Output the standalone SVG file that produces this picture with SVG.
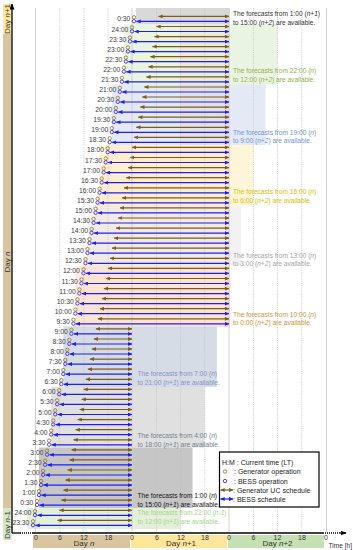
<svg xmlns="http://www.w3.org/2000/svg" width="353" height="550" viewBox="0 0 353 550">
<style>
text{font-family:"Liberation Sans",Arial,sans-serif;}
.lb{font-size:6.8px;fill:#404040;text-anchor:end;}
.ft{font-size:6.6px;}
.tk{font-size:7px;fill:#333;text-anchor:middle;}
.dy{font-size:8px;fill:#333;text-anchor:middle;}
.cg{fill:none;stroke:#A07A2C;stroke-width:0.9;}
.cb{fill:none;stroke:#3A2EE0;stroke-width:0.9;}
.ab{stroke:#7E5C1E;stroke-width:1.2;marker-start:url(#mbr);marker-end:url(#mbr);}
.aB{stroke:#1E1EF0;stroke-width:1.2;marker-start:url(#mbl);marker-end:url(#mbl);}
.gd{stroke:#BFBFBF;stroke-width:0.8;stroke-dasharray:1 1.2;}
.gs{stroke:#D0D0D0;stroke-width:1;}
.lg{font-size:7px;fill:#222;}
.rg{opacity:0.75;}
</style>
<defs>
<marker id="mbr" markerUnits="userSpaceOnUse" markerWidth="4.5" markerHeight="4" refX="4.2" refY="2" orient="auto-start-reverse"><path d="M0,0 L4.5,2 L0,4 z" fill="#7E5C1E"/></marker>
<marker id="mbl" markerUnits="userSpaceOnUse" markerWidth="4.5" markerHeight="4" refX="4.2" refY="2" orient="auto-start-reverse"><path d="M0,0 L4.5,2 L0,4 z" fill="#1E1EF0"/></marker>
<marker id="max" markerUnits="userSpaceOnUse" markerWidth="6" markerHeight="5" refX="5.5" refY="2.5" orient="auto"><path d="M0,0 L6,2.5 L0,5 z" fill="#000"/></marker>
</defs>

<g id="regions">
<polygon points="180,8 229,8 229,327 74,327 108,145 180,145" fill="#FBE0D2"/>
<rect x="224.5" y="8" width="5" height="319" fill="#F6C6C2"/>
<rect x="136" y="8" width="93" height="16" fill="#D9D9D9"/>
<rect class="rg" x="124" y="24" width="153.5" height="60.5" fill="#E2F0D9"/>
<rect class="rg" x="112" y="84.5" width="153.5" height="60.5" fill="#DAE3F3"/>
<rect class="rg" x="99.6" y="145" width="153.5" height="60.5" fill="#FFF2CC"/>
<rect class="rg" x="87.5" y="205.5" width="153.5" height="60.5" fill="#EDEDED"/>
<rect class="rg" x="75.4" y="266" width="153.6" height="60.5" fill="#FBE5D6"/>
<rect x="63.3" y="326.5" width="153.5" height="60.5" fill="#D6DCE5"/>
<rect x="51.2" y="387" width="153.5" height="60.5" fill="#E0E0E0"/>
<rect x="39" y="447.5" width="153.5" height="60.5" fill="#C6C6C6"/>
<rect x="27" y="508" width="153.5" height="21" fill="#E2F0D9"/>
</g>

<g id="grid">
<line class="gs" x1="35.5" y1="8" x2="35.5" y2="532"/>
<line class="gs" x1="132" y1="8" x2="132" y2="532"/>
<line class="gs" x1="229" y1="8" x2="229" y2="532"/>
<line class="gs" x1="326.5" y1="8" x2="326.5" y2="532"/>
<line class="gd" x1="59.7" y1="8" x2="59.7" y2="532"/>
<line class="gd" x1="83.9" y1="8" x2="83.9" y2="532"/>
<line class="gd" x1="108.1" y1="8" x2="108.1" y2="532"/>
<line class="gd" x1="156.5" y1="8" x2="156.5" y2="532"/>
<line class="gd" x1="180.6" y1="8" x2="180.6" y2="532"/>
<line class="gd" x1="204.8" y1="8" x2="204.8" y2="532"/>
<line class="gd" x1="253.5" y1="8" x2="253.5" y2="532"/>
<line class="gd" x1="277.5" y1="8" x2="277.5" y2="532"/>
<line class="gd" x1="301.8" y1="8" x2="301.8" y2="532"/>
</g>

<g id="day-bands">
<rect x="3" y="4" width="8.5" height="30" fill="#FFE699"/>
<rect x="3" y="34" width="8.5" height="474" fill="#D9C6A0"/>
<rect x="3" y="508" width="8.5" height="32" fill="#D5E8C4"/>
<text class="dy" transform="translate(9.8,19) rotate(-90)" font-size="7">Day <tspan font-style="italic">n</tspan>+1</text>
<text class="dy" transform="translate(9.8,262) rotate(-90)" font-size="7">Day <tspan font-style="italic">n</tspan></text>
<text class="dy" transform="translate(9.8,525) rotate(-90)" font-size="7">Day <tspan font-style="italic">n</tspan>-1</text>
<rect x="33" y="535" width="97" height="13" fill="#D9C6A0"/>
<rect x="131" y="535" width="96" height="13" fill="#FFE699"/>
<rect x="228" y="535" width="96" height="13" fill="#C5E0B4"/>
</g>

<g id="axes">
<line x1="12" y1="533" x2="12" y2="4" stroke="#000" stroke-width="1.3" marker-end="url(#max)"/>
<line x1="12" y1="533" x2="20" y2="533" stroke="#000" stroke-width="1.3"/>
<line x1="20" y1="533" x2="33" y2="533" stroke="#000" stroke-width="1.3" stroke-dasharray="1 1"/>
<line x1="33" y1="533" x2="323" y2="533" stroke="#000" stroke-width="1.3"/>
<line x1="323" y1="533" x2="339" y2="533" stroke="#000" stroke-width="1.3" stroke-dasharray="1 1"/>
<line x1="339" y1="533" x2="346" y2="533" stroke="#000" stroke-width="1.3" marker-end="url(#max)"/>
<text class="tk" x="36" y="539.5">0</text><text class="tk" x="60" y="539.5">6</text><text class="tk" x="84" y="539.5">12</text><text class="tk" x="108.5" y="539.5">18</text>
<text class="tk" x="132" y="539.5">0</text><text class="tk" x="157" y="539.5">6</text><text class="tk" x="181" y="539.5">12</text><text class="tk" x="205" y="539.5">18</text>
<text class="tk" x="229" y="539.5">0</text><text class="tk" x="253.5" y="539.5">6</text><text class="tk" x="277.5" y="539.5">12</text><text class="tk" x="302" y="539.5">18</text>
<text class="tk" x="326" y="539.5">0</text>
<text class="dy" x="84" y="546">Day <tspan font-style="italic">n</tspan></text>
<text class="dy" x="181" y="546">Day <tspan font-style="italic">n</tspan>+1</text>
<text class="dy" x="277.5" y="546">Day <tspan font-style="italic">n</tspan>+2</text>
<text x="352" y="547.5" font-size="6.6" fill="#333" text-anchor="end">Time [h]</text>
</g>

<g id="forecast-texts" class="ft">
<text x="233" y="15.8" fill="#333">The forecasts from 1:00 (<tspan font-style="italic">n+1</tspan>)</text>
<text x="233" y="25" fill="#333">to 15:00 (<tspan font-style="italic">n+2</tspan>) are available.</text>
<text x="233" y="73.3" fill="#8DB54A">The forecasts from 22:00 (<tspan font-style="italic">n</tspan>)</text>
<text x="233" y="82" fill="#8DB54A">to 12:00 (<tspan font-style="italic">n+2</tspan>) are available.</text>
<text x="233" y="135" fill="#6F96D6">The forecasts from 19:00 (<tspan font-style="italic">n</tspan>)</text>
<text x="233" y="143.3" fill="#6F96D6">to 9:00 (<tspan font-style="italic">n+2</tspan>) are available.</text>
<text x="233" y="194" fill="#D6BE00">The forecasts from 16:00 (<tspan font-style="italic">n</tspan>)</text>
<text x="233" y="203" fill="#D6BE00">to 6:00 (<tspan font-style="italic">n+2</tspan>) are available.</text>
<text x="233" y="257.5" fill="#A6A6A6">The forecasts from 13:00 (<tspan font-style="italic">n</tspan>)</text>
<text x="233" y="265.5" fill="#A6A6A6">to 3:00 (<tspan font-style="italic">n+2</tspan>) are available.</text>
<text x="233" y="316.7" fill="#C9943A">The forecasts from 10:00 (<tspan font-style="italic">n</tspan>)</text>
<text x="233" y="325" fill="#C9943A">to 0:00 (<tspan font-style="italic">n+2</tspan>) are available.</text>
<text x="137.5" y="375.5" fill="#8492C4">The forecasts from 7:00 (<tspan font-style="italic">n</tspan>)</text>
<text x="137.5" y="385" fill="#8492C4">to 21:00 (<tspan font-style="italic">n+1</tspan>) are available.</text>
<text x="137.5" y="438" fill="#6F7F90">The forecasts from 4:00 (<tspan font-style="italic">n</tspan>)</text>
<text x="137.5" y="446.5" fill="#6F7F90">to 18:00 (<tspan font-style="italic">n+1</tspan>) are available.</text>
<text x="137.5" y="498" fill="#111">The forecasts from 1:00 (<tspan font-style="italic">n</tspan>)</text>
<text x="137.5" y="506.5" fill="#111">to 15:00 (<tspan font-style="italic">n+1</tspan>) are available.</text>
<text x="137.5" y="515" fill="#A9D18E">The forecasts from 22:00 (<tspan font-style="italic">n-1</tspan>)</text>
<text x="137.5" y="523.5" fill="#A9D18E">to 12:00 (<tspan font-style="italic">n+1</tspan>) are available.</text>
</g>

<g id="connectors">
<line class="ab" x1="158.5" y1="16.4" x2="229" y2="16.4"/><line class="aB" x1="136.5" y1="21.4" x2="229" y2="21.4"/>
<line class="ab" x1="156.5" y1="26.5" x2="229" y2="26.5"/><line class="aB" x1="134.5" y1="31.5" x2="229" y2="31.5"/>
<line class="ab" x1="154.4" y1="36.6" x2="229" y2="36.6"/><line class="aB" x1="132.4" y1="41.6" x2="229" y2="41.6"/>
<line class="ab" x1="152.4" y1="46.6" x2="229" y2="46.6"/><line class="aB" x1="130.4" y1="51.6" x2="229" y2="51.6"/>
<line class="ab" x1="150.4" y1="56.7" x2="229" y2="56.7"/><line class="aB" x1="128.4" y1="61.7" x2="229" y2="61.7"/>
<line class="ab" x1="148.4" y1="66.8" x2="229" y2="66.8"/><line class="aB" x1="126.4" y1="71.8" x2="229" y2="71.8"/>
<line class="ab" x1="146.4" y1="76.9" x2="229" y2="76.9"/><line class="aB" x1="124.4" y1="81.9" x2="229" y2="81.9"/>
<line class="ab" x1="144.3" y1="87" x2="229" y2="87"/><line class="aB" x1="122.3" y1="92" x2="229" y2="92"/>
<line class="ab" x1="142.3" y1="97" x2="229" y2="97"/><line class="aB" x1="120.3" y1="102" x2="229" y2="102"/>
<line class="ab" x1="140.3" y1="107.1" x2="229" y2="107.1"/><line class="aB" x1="118.3" y1="112.1" x2="229" y2="112.1"/>
<line class="ab" x1="138.3" y1="117.2" x2="229" y2="117.2"/><line class="aB" x1="116.3" y1="122.2" x2="229" y2="122.2"/>
<line class="ab" x1="136.3" y1="127.3" x2="229" y2="127.3"/><line class="aB" x1="114.3" y1="132.3" x2="229" y2="132.3"/>
<line class="ab" x1="134.2" y1="137.4" x2="229" y2="137.4"/><line class="aB" x1="112.2" y1="142.4" x2="229" y2="142.4"/>
<line class="ab" x1="132.2" y1="147.4" x2="229" y2="147.4"/><line class="aB" x1="110.2" y1="152.4" x2="229" y2="152.4"/>
<line class="ab" x1="130.2" y1="157.5" x2="229" y2="157.5"/><line class="aB" x1="108.2" y1="162.5" x2="229" y2="162.5"/>
<line class="ab" x1="128.2" y1="167.6" x2="229" y2="167.6"/><line class="aB" x1="106.2" y1="172.6" x2="229" y2="172.6"/>
<line class="ab" x1="126.2" y1="177.7" x2="229" y2="177.7"/><line class="aB" x1="104.2" y1="182.7" x2="229" y2="182.7"/>
<line class="ab" x1="124.1" y1="187.8" x2="229" y2="187.8"/><line class="aB" x1="102.1" y1="192.8" x2="229" y2="192.8"/>
<line class="ab" x1="122.1" y1="197.8" x2="229" y2="197.8"/><line class="aB" x1="100.1" y1="202.8" x2="229" y2="202.8"/>
<line class="ab" x1="120.1" y1="207.9" x2="229" y2="207.9"/><line class="aB" x1="98.1" y1="212.9" x2="229" y2="212.9"/>
<line class="ab" x1="118.1" y1="218" x2="229" y2="218"/><line class="aB" x1="96.1" y1="223" x2="229" y2="223"/>
<line class="ab" x1="116.1" y1="228.1" x2="229" y2="228.1"/><line class="aB" x1="94.1" y1="233.1" x2="229" y2="233.1"/>
<line class="ab" x1="114" y1="238.2" x2="229" y2="238.2"/><line class="aB" x1="92" y1="243.2" x2="229" y2="243.2"/>
<line class="ab" x1="112" y1="248.2" x2="229" y2="248.2"/><line class="aB" x1="90" y1="253.2" x2="229" y2="253.2"/>
<line class="ab" x1="110" y1="258.3" x2="229" y2="258.3"/><line class="aB" x1="88" y1="263.3" x2="229" y2="263.3"/>
<line class="ab" x1="108" y1="268.4" x2="229" y2="268.4"/><line class="aB" x1="86" y1="273.4" x2="229" y2="273.4"/>
<line class="ab" x1="106" y1="278.5" x2="229" y2="278.5"/><line class="aB" x1="84" y1="283.5" x2="229" y2="283.5"/>
<line class="ab" x1="103.9" y1="288.6" x2="229" y2="288.6"/><line class="aB" x1="81.9" y1="293.6" x2="229" y2="293.6"/>
<line class="ab" x1="101.9" y1="298.6" x2="229" y2="298.6"/><line class="aB" x1="79.9" y1="303.6" x2="229" y2="303.6"/>
<line class="ab" x1="99.9" y1="308.7" x2="229" y2="308.7"/><line class="aB" x1="77.9" y1="313.7" x2="229" y2="313.7"/>
<line class="ab" x1="97.9" y1="318.8" x2="229" y2="318.8"/><line class="aB" x1="75.9" y1="323.8" x2="229" y2="323.8"/>
<line class="ab" x1="95.9" y1="328.9" x2="132" y2="328.9"/><line class="aB" x1="73.9" y1="333.9" x2="132" y2="333.9"/>
<line class="ab" x1="93.8" y1="339" x2="132" y2="339"/><line class="aB" x1="71.8" y1="344" x2="132" y2="344"/>
<line class="ab" x1="91.8" y1="349" x2="132" y2="349"/><line class="aB" x1="69.8" y1="354" x2="132" y2="354"/>
<line class="ab" x1="89.8" y1="359.1" x2="132" y2="359.1"/><line class="aB" x1="67.8" y1="364.1" x2="132" y2="364.1"/>
<line class="ab" x1="87.8" y1="369.2" x2="132" y2="369.2"/><line class="aB" x1="65.8" y1="374.2" x2="132" y2="374.2"/>
<line class="ab" x1="85.8" y1="379.3" x2="132" y2="379.3"/><line class="aB" x1="63.8" y1="384.3" x2="132" y2="384.3"/>
<line class="ab" x1="83.7" y1="389.4" x2="132" y2="389.4"/><line class="aB" x1="61.7" y1="394.4" x2="132" y2="394.4"/>
<line class="ab" x1="81.7" y1="399.4" x2="132" y2="399.4"/><line class="aB" x1="59.7" y1="404.4" x2="132" y2="404.4"/>
<line class="ab" x1="79.7" y1="409.5" x2="132" y2="409.5"/><line class="aB" x1="57.7" y1="414.5" x2="132" y2="414.5"/>
<line class="ab" x1="77.7" y1="419.6" x2="132" y2="419.6"/><line class="aB" x1="55.7" y1="424.6" x2="132" y2="424.6"/>
<line class="ab" x1="75.7" y1="429.7" x2="132" y2="429.7"/><line class="aB" x1="53.7" y1="434.7" x2="132" y2="434.7"/>
<line class="ab" x1="73.6" y1="439.8" x2="132" y2="439.8"/><line class="aB" x1="51.6" y1="444.8" x2="132" y2="444.8"/>
<line class="ab" x1="71.6" y1="449.8" x2="132" y2="449.8"/><line class="aB" x1="49.6" y1="454.8" x2="132" y2="454.8"/>
<line class="ab" x1="69.6" y1="459.9" x2="132" y2="459.9"/><line class="aB" x1="47.6" y1="464.9" x2="132" y2="464.9"/>
<line class="ab" x1="67.6" y1="470" x2="132" y2="470"/><line class="aB" x1="45.6" y1="475" x2="132" y2="475"/>
<line class="ab" x1="65.6" y1="480.1" x2="132" y2="480.1"/><line class="aB" x1="43.6" y1="485.1" x2="132" y2="485.1"/>
<line class="ab" x1="63.5" y1="490.2" x2="132" y2="490.2"/><line class="aB" x1="41.5" y1="495.2" x2="132" y2="495.2"/>
<line class="ab" x1="61.5" y1="500.2" x2="132" y2="500.2"/><line class="aB" x1="39.5" y1="505.2" x2="132" y2="505.2"/>
<line class="ab" x1="59.5" y1="510.3" x2="132" y2="510.3"/><line class="aB" x1="37.5" y1="515.3" x2="132" y2="515.3"/>
<line class="ab" x1="57.5" y1="520.4" x2="132" y2="520.4"/><line class="aB" x1="35.5" y1="525.4" x2="132" y2="525.4"/>
</g>

<g id="rows">
<g id="r00" transform="translate(134,19)"><text class="lb" x="-3.6" y="2.4">0:30</text><circle class="cg" cy="-1.7" r="1.7"/><circle class="cb" cy="2.2" r="1.7"/></g>
<g id="r01" transform="translate(132,29.1)"><text class="lb" x="-3.6" y="2.4">24:00</text><circle class="cg" cy="-1.7" r="1.7"/><circle class="cb" cy="2.2" r="1.7"/></g>
<g id="r02" transform="translate(129.9,39.2)"><text class="lb" x="-3.6" y="2.4">23:30</text><circle class="cg" cy="-1.7" r="1.7"/><circle class="cb" cy="2.2" r="1.7"/></g>
<g id="r03" transform="translate(127.9,49.2)"><text class="lb" x="-3.6" y="2.4">23:00</text><circle class="cg" cy="-1.7" r="1.7"/><circle class="cb" cy="2.2" r="1.7"/></g>
<g id="r04" transform="translate(125.9,59.3)"><text class="lb" x="-3.6" y="2.4">22:30</text><circle class="cg" cy="-1.7" r="1.7"/><circle class="cb" cy="2.2" r="1.7"/></g>
<g id="r05" transform="translate(123.9,69.4)"><text class="lb" x="-3.6" y="2.4">22:00</text><circle class="cg" cy="-1.7" r="1.7"/><circle class="cb" cy="2.2" r="1.7"/></g>
<g id="r06" transform="translate(121.9,79.5)"><text class="lb" x="-3.6" y="2.4">21:30</text><circle class="cg" cy="-1.7" r="1.7"/><circle class="cb" cy="2.2" r="1.7"/></g>
<g id="r07" transform="translate(119.8,89.6)"><text class="lb" x="-3.6" y="2.4">21:00</text><circle class="cg" cy="-1.7" r="1.7"/><circle class="cb" cy="2.2" r="1.7"/></g>
<g id="r08" transform="translate(117.8,99.6)"><text class="lb" x="-3.6" y="2.4">20:30</text><circle class="cg" cy="-1.7" r="1.7"/><circle class="cb" cy="2.2" r="1.7"/></g>
<g id="r09" transform="translate(115.8,109.7)"><text class="lb" x="-3.6" y="2.4">20:00</text><circle class="cg" cy="-1.7" r="1.7"/><circle class="cb" cy="2.2" r="1.7"/></g>
<g id="r10" transform="translate(113.8,119.8)"><text class="lb" x="-3.6" y="2.4">19:30</text><circle class="cg" cy="-1.7" r="1.7"/><circle class="cb" cy="2.2" r="1.7"/></g>
<g id="r11" transform="translate(111.8,129.9)"><text class="lb" x="-3.6" y="2.4">19:00</text><circle class="cg" cy="-1.7" r="1.7"/><circle class="cb" cy="2.2" r="1.7"/></g>
<g id="r12" transform="translate(109.7,140)"><text class="lb" x="-3.6" y="2.4">18:30</text><circle class="cg" cy="-1.7" r="1.7"/><circle class="cb" cy="2.2" r="1.7"/></g>
<g id="r13" transform="translate(107.7,150)"><text class="lb" x="-3.6" y="2.4">18:00</text><circle class="cg" cy="-1.7" r="1.7"/><circle class="cb" cy="2.2" r="1.7"/></g>
<g id="r14" transform="translate(105.7,160.1)"><text class="lb" x="-3.6" y="2.4">17:30</text><circle class="cg" cy="-1.7" r="1.7"/><circle class="cb" cy="2.2" r="1.7"/></g>
<g id="r15" transform="translate(103.7,170.2)"><text class="lb" x="-3.6" y="2.4">17:00</text><circle class="cg" cy="-1.7" r="1.7"/><circle class="cb" cy="2.2" r="1.7"/></g>
<g id="r16" transform="translate(101.7,180.3)"><text class="lb" x="-3.6" y="2.4">16:30</text><circle class="cg" cy="-1.7" r="1.7"/><circle class="cb" cy="2.2" r="1.7"/></g>
<g id="r17" transform="translate(99.6,190.4)"><text class="lb" x="-3.6" y="2.4">16:00</text><circle class="cg" cy="-1.7" r="1.7"/><circle class="cb" cy="2.2" r="1.7"/></g>
<g id="r18" transform="translate(97.6,200.4)"><text class="lb" x="-3.6" y="2.4">15:30</text><circle class="cg" cy="-1.7" r="1.7"/><circle class="cb" cy="2.2" r="1.7"/></g>
<g id="r19" transform="translate(95.6,210.5)"><text class="lb" x="-3.6" y="2.4">15:00</text><circle class="cg" cy="-1.7" r="1.7"/><circle class="cb" cy="2.2" r="1.7"/></g>
<g id="r20" transform="translate(93.6,220.6)"><text class="lb" x="-3.6" y="2.4">14:30</text><circle class="cg" cy="-1.7" r="1.7"/><circle class="cb" cy="2.2" r="1.7"/></g>
<g id="r21" transform="translate(91.6,230.7)"><text class="lb" x="-3.6" y="2.4">14:00</text><circle class="cg" cy="-1.7" r="1.7"/><circle class="cb" cy="2.2" r="1.7"/></g>
<g id="r22" transform="translate(89.5,240.8)"><text class="lb" x="-3.6" y="2.4">13:30</text><circle class="cg" cy="-1.7" r="1.7"/><circle class="cb" cy="2.2" r="1.7"/></g>
<g id="r23" transform="translate(87.5,250.8)"><text class="lb" x="-3.6" y="2.4">13:00</text><circle class="cg" cy="-1.7" r="1.7"/><circle class="cb" cy="2.2" r="1.7"/></g>
<g id="r24" transform="translate(85.5,260.9)"><text class="lb" x="-3.6" y="2.4">12:30</text><circle class="cg" cy="-1.7" r="1.7"/><circle class="cb" cy="2.2" r="1.7"/></g>
<g id="r25" transform="translate(83.5,271)"><text class="lb" x="-3.6" y="2.4">12:00</text><circle class="cg" cy="-1.7" r="1.7"/><circle class="cb" cy="2.2" r="1.7"/></g>
<g id="r26" transform="translate(81.5,281.1)"><text class="lb" x="-3.6" y="2.4">11:30</text><circle class="cg" cy="-1.7" r="1.7"/><circle class="cb" cy="2.2" r="1.7"/></g>
<g id="r27" transform="translate(79.4,291.2)"><text class="lb" x="-3.6" y="2.4">11:00</text><circle class="cg" cy="-1.7" r="1.7"/><circle class="cb" cy="2.2" r="1.7"/></g>
<g id="r28" transform="translate(77.4,301.2)"><text class="lb" x="-3.6" y="2.4">10:30</text><circle class="cg" cy="-1.7" r="1.7"/><circle class="cb" cy="2.2" r="1.7"/></g>
<g id="r29" transform="translate(75.4,311.3)"><text class="lb" x="-3.6" y="2.4">10:00</text><circle class="cg" cy="-1.7" r="1.7"/><circle class="cb" cy="2.2" r="1.7"/></g>
<g id="r30" transform="translate(73.4,321.4)"><text class="lb" x="-3.6" y="2.4">9:30</text><circle class="cg" cy="-1.7" r="1.7"/><circle class="cb" cy="2.2" r="1.7"/></g>
<g id="r31" transform="translate(71.4,331.5)"><text class="lb" x="-3.6" y="2.4">9:00</text><circle class="cg" cy="-1.7" r="1.7"/><circle class="cb" cy="2.2" r="1.7"/></g>
<g id="r32" transform="translate(69.3,341.6)"><text class="lb" x="-3.6" y="2.4">8:30</text><circle class="cg" cy="-1.7" r="1.7"/><circle class="cb" cy="2.2" r="1.7"/></g>
<g id="r33" transform="translate(67.3,351.6)"><text class="lb" x="-3.6" y="2.4">8:00</text><circle class="cg" cy="-1.7" r="1.7"/><circle class="cb" cy="2.2" r="1.7"/></g>
<g id="r34" transform="translate(65.3,361.7)"><text class="lb" x="-3.6" y="2.4">7:30</text><circle class="cg" cy="-1.7" r="1.7"/><circle class="cb" cy="2.2" r="1.7"/></g>
<g id="r35" transform="translate(63.3,371.8)"><text class="lb" x="-3.6" y="2.4">7:00</text><circle class="cg" cy="-1.7" r="1.7"/><circle class="cb" cy="2.2" r="1.7"/></g>
<g id="r36" transform="translate(61.3,381.9)"><text class="lb" x="-3.6" y="2.4">6:30</text><circle class="cg" cy="-1.7" r="1.7"/><circle class="cb" cy="2.2" r="1.7"/></g>
<g id="r37" transform="translate(59.2,392)"><text class="lb" x="-3.6" y="2.4">6:00</text><circle class="cg" cy="-1.7" r="1.7"/><circle class="cb" cy="2.2" r="1.7"/></g>
<g id="r38" transform="translate(57.2,402)"><text class="lb" x="-3.6" y="2.4">5:30</text><circle class="cg" cy="-1.7" r="1.7"/><circle class="cb" cy="2.2" r="1.7"/></g>
<g id="r39" transform="translate(55.2,412.1)"><text class="lb" x="-3.6" y="2.4">5:00</text><circle class="cg" cy="-1.7" r="1.7"/><circle class="cb" cy="2.2" r="1.7"/></g>
<g id="r40" transform="translate(53.2,422.2)"><text class="lb" x="-3.6" y="2.4">4:30</text><circle class="cg" cy="-1.7" r="1.7"/><circle class="cb" cy="2.2" r="1.7"/></g>
<g id="r41" transform="translate(51.2,432.3)"><text class="lb" x="-3.6" y="2.4">4:00</text><circle class="cg" cy="-1.7" r="1.7"/><circle class="cb" cy="2.2" r="1.7"/></g>
<g id="r42" transform="translate(49.1,442.4)"><text class="lb" x="-3.6" y="2.4">3:30</text><circle class="cg" cy="-1.7" r="1.7"/><circle class="cb" cy="2.2" r="1.7"/></g>
<g id="r43" transform="translate(47.1,452.4)"><text class="lb" x="-3.6" y="2.4">3:00</text><circle class="cg" cy="-1.7" r="1.7"/><circle class="cb" cy="2.2" r="1.7"/></g>
<g id="r44" transform="translate(45.1,462.5)"><text class="lb" x="-3.6" y="2.4">2:30</text><circle class="cg" cy="-1.7" r="1.7"/><circle class="cb" cy="2.2" r="1.7"/></g>
<g id="r45" transform="translate(43.1,472.6)"><text class="lb" x="-3.6" y="2.4">2:00</text><circle class="cg" cy="-1.7" r="1.7"/><circle class="cb" cy="2.2" r="1.7"/></g>
<g id="r46" transform="translate(41.1,482.7)"><text class="lb" x="-3.6" y="2.4">1:30</text><circle class="cg" cy="-1.7" r="1.7"/><circle class="cb" cy="2.2" r="1.7"/></g>
<g id="r47" transform="translate(39,492.8)"><text class="lb" x="-3.6" y="2.4">1:00</text><circle class="cg" cy="-1.7" r="1.7"/><circle class="cb" cy="2.2" r="1.7"/></g>
<g id="r48" transform="translate(37,502.8)"><text class="lb" x="-3.6" y="2.4">0:30</text><circle class="cg" cy="-1.7" r="1.7"/><circle class="cb" cy="2.2" r="1.7"/></g>
<g id="r49" transform="translate(35,512.9)"><text class="lb" x="-3.6" y="2.4">24:00</text><circle class="cg" cy="-1.7" r="1.7"/><circle class="cb" cy="2.2" r="1.7"/></g>
<g id="r50" transform="translate(33,523)"><text class="lb" x="-3.6" y="2.4">23:30</text><circle class="cg" cy="-1.7" r="1.7"/><circle class="cb" cy="2.2" r="1.7"/></g>
</g>

<g id="legend">
<rect x="219.5" y="452" width="99.5" height="55" fill="#fff" stroke="#000" stroke-width="1.2"/>
<text class="lg" x="222" y="464.5">H:M : Current time (LT)</text>
<circle class="cg" cx="225" cy="471.5" r="1.7"/><text class="lg" x="234" y="474">: Generator operation</text>
<circle class="cb" cx="225" cy="481" r="1.7"/><text class="lg" x="234" y="483.5">: BESS operation</text>
<line class="ab" x1="220.5" y1="490" x2="233" y2="490"/><text class="lg" x="233" y="492.5">: Generator UC schedule</text>
<line class="aB" x1="220.5" y1="499" x2="233" y2="499"/><text class="lg" x="233" y="501.5">: BESS schedule</text>
</g>
</svg>
